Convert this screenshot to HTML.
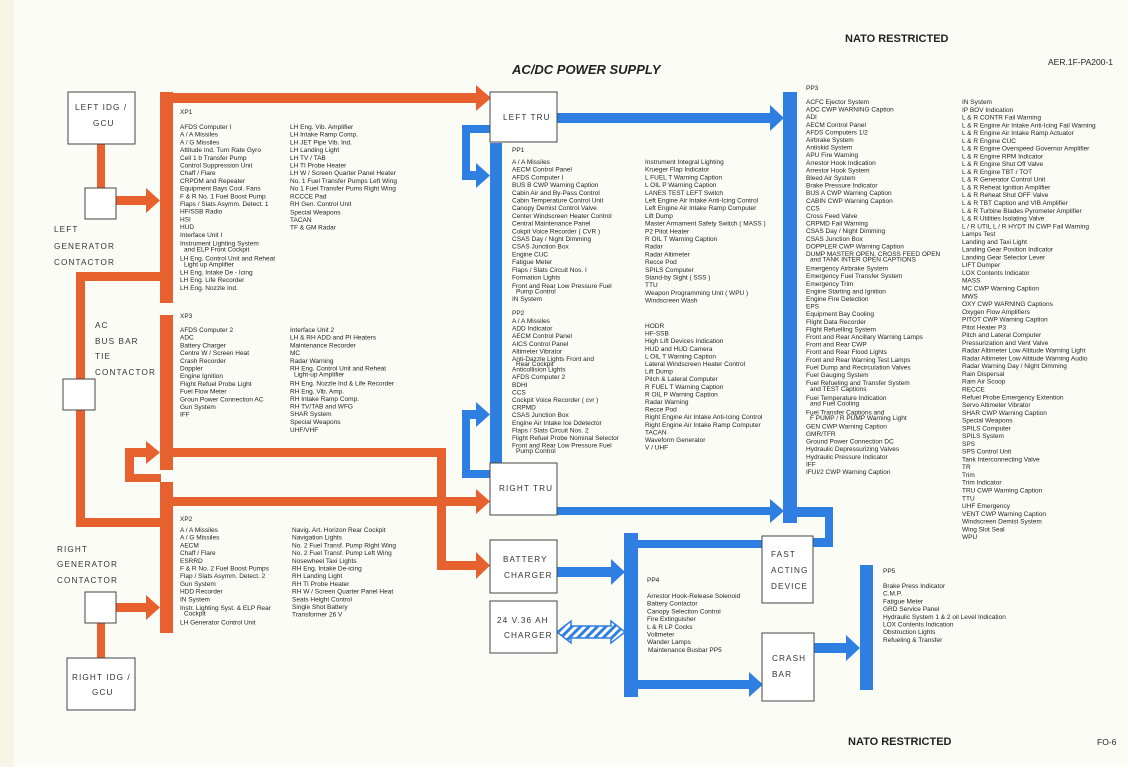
<!DOCTYPE html>
<html><head><meta charset="utf-8"><style>
html,body{margin:0;padding:0;background:#fcfcf7;}
svg{display:block;}
.t{font-family:"Liberation Sans",Arial,sans-serif;font-size:6.5px;fill:#222;}
.b{font-family:"Liberation Sans",Arial,sans-serif;font-size:8.2px;fill:#333;letter-spacing:1.1px;}
.h{font-family:"Liberation Sans",Arial,sans-serif;font-weight:bold;fill:#222;}
</style></head><body>
<svg width="1128" height="767" viewBox="0 0 1128 767" xmlns="http://www.w3.org/2000/svg">
<defs>
<pattern id="hz" width="6" height="6" patternUnits="userSpaceOnUse" patternTransform="rotate(45)">
<rect width="6" height="6" fill="#fff"/><rect width="3" height="6" fill="#2f7fe2"/></pattern>
</defs>
<rect x="0" y="0" width="1128" height="767" fill="#fcfcf7"/>
<rect x="0" y="0" width="14" height="767" fill="#f6f4e4"/>

<text class="h" x="845" y="42" font-size="11">NATO RESTRICTED</text>
<text class="h" x="512" y="74" font-size="13" font-style="italic">AC/DC POWER SUPPLY</text>
<text class="t" x="1048" y="65" style="font-size:8.5px">AER.1F-PA200-1</text>
<text class="h" x="848" y="745" font-size="11">NATO RESTRICTED</text>
<text class="t" x="1097" y="745" style="font-size:8.5px">FO-6</text>

<!-- ORANGE -->
<g fill="#e6612d">
<rect x="160" y="92" width="13" height="211"/>
<rect x="173" y="93" width="305" height="10"/>
<polygon points="476,85 491,98 476,111"/>
<rect x="97" y="144" width="8" height="44"/>
<rect x="116" y="196" width="32" height="9"/>
<polygon points="146,188 160,200.5 146,213"/>
<rect x="76" y="272" width="84" height="9"/>
<rect x="76" y="272" width="9" height="255"/>
<rect x="76" y="518" width="90" height="9"/>
<rect x="160" y="315" width="13" height="155"/>
<rect x="173" y="448" width="273" height="9"/>
<rect x="437" y="448" width="9" height="122"/>
<rect x="437" y="561" width="41" height="9"/>
<polygon points="476,552 490,565.5 476,579"/>
<rect x="125" y="448" width="9" height="34"/>
<rect x="125" y="474" width="36" height="8"/>
<rect x="125" y="448" width="23" height="9"/>
<polygon points="146,441 160,452.5 146,464"/>
<rect x="160" y="482" width="13" height="151"/>
<rect x="173" y="497" width="305" height="9"/>
<polygon points="476,489 490,501.5 476,514"/>
<rect x="116" y="603" width="32" height="9"/>
<polygon points="146,595 160,607.5 146,620"/>
<rect x="97" y="622" width="8" height="36"/>
</g>

<!-- BLUE -->
<g fill="#2f7fe2">
<rect x="557" y="113" width="214" height="10"/>
<polygon points="770,105 784,118 770,131"/>
<rect x="783" y="92" width="14" height="431"/>
<rect x="797" y="507" width="36" height="10"/>
<rect x="825" y="507" width="8" height="40"/>
<rect x="813" y="538" width="20" height="9"/>
<rect x="462" y="125" width="28" height="8"/>
<rect x="462" y="125" width="8" height="55"/>
<rect x="462" y="171" width="16" height="9"/>
<polygon points="476,163 490,175.5 476,188"/>
<rect x="490" y="143" width="12" height="327"/>
<rect x="462" y="470" width="28" height="8"/>
<rect x="462" y="410" width="8" height="68"/>
<rect x="462" y="410" width="16" height="9"/>
<polygon points="476,402 490,414.5 476,427"/>
<rect x="557" y="507" width="214" height="8"/>
<polygon points="770,499 784,511 770,523"/>
<rect x="557" y="567" width="56" height="10"/>
<polygon points="611,559 625,572 611,585"/>
<rect x="624" y="533" width="14" height="164"/>
<rect x="638" y="540" width="125" height="8"/>
<rect x="638" y="680" width="112" height="9"/>
<polygon points="749,672 763,684.5 749,697"/>
<rect x="813" y="643" width="35" height="10"/>
<polygon points="846,635 860,648 846,661"/>
<rect x="860" y="565" width="13" height="125"/>
</g>
<polygon points="557,632 571,621 571,626 611,626 611,621 625,632 611,643 611,638 571,638 571,643" fill="url(#hz)" stroke="#2f7fe2" stroke-width="1.5"/>

<!-- BOXES -->
<g fill="#fff" stroke="#444" stroke-width="1">
<rect x="68" y="92" width="67" height="52"/>
<rect x="85" y="188" width="31" height="31"/>
<rect x="63" y="379" width="32" height="31"/>
<rect x="85" y="592" width="31" height="31"/>
<rect x="67" y="658" width="68" height="52"/>
<rect x="490" y="92" width="67" height="50"/>
<rect x="490" y="463" width="67" height="52"/>
<rect x="490" y="540" width="67" height="53"/>
<rect x="490" y="601" width="67" height="52"/>
<rect x="762" y="536" width="51" height="67"/>
<rect x="762" y="633" width="52" height="68"/>
</g>
<g class="b">
<text x="75" y="110">LEFT IDG /</text><text x="93" y="126">GCU</text>
<text x="54" y="232">LEFT</text><text x="54" y="249">GENERATOR</text><text x="54" y="265">CONTACTOR</text>
<text x="95" y="328">AC</text><text x="95" y="344">BUS BAR</text><text x="95" y="359">TIE</text><text x="95" y="375">CONTACTOR</text>
<text x="57" y="552">RIGHT</text><text x="57" y="567">GENERATOR</text><text x="57" y="583">CONTACTOR</text>
<text x="72" y="680">RIGHT IDG /</text><text x="92" y="695">GCU</text>
<text x="503" y="120">LEFT TRU</text>
<text x="499" y="491">RIGHT TRU</text>
<text x="503" y="562">BATTERY</text><text x="504" y="578">CHARGER</text>
<text x="497" y="623">24 V.36 AH</text><text x="504" y="638">CHARGER</text>
<text x="771" y="557">FAST</text><text x="771" y="573">ACTING</text><text x="771" y="589">DEVICE</text>
<text x="772" y="661">CRASH</text><text x="772" y="677">BAR</text>
</g>

<g class="t">
<!-- XP1 -->
<text x="180" y="114">XP1</text>
<text x="180" y="129"><tspan x="180">AFDS Computer I</tspan><tspan x="180" dy="7.7">A / A Missiles</tspan><tspan x="180" dy="7.7">A / G Missiles</tspan><tspan x="180" dy="7.7">Attitude Ind. Turn Rate Gyro</tspan><tspan x="180" dy="7.7">Cell 1 b Transfer Pump</tspan><tspan x="180" dy="7.7">Control Suppression Unit</tspan><tspan x="180" dy="7.7">Chaff / Flare</tspan><tspan x="180" dy="7.7">CRPDM and Repeater</tspan><tspan x="180" dy="7.7">Equipment Bays Cool. Fans</tspan><tspan x="180" dy="7.7">F &amp; R No. 1 Fuel Boost Pump</tspan><tspan x="180" dy="7.7">Flaps / Slats Asymm. Detect. 1</tspan><tspan x="180" dy="7.7">HF/SSB Radio</tspan><tspan x="180" dy="7.7">HSI</tspan><tspan x="180" dy="7.7">HUD</tspan><tspan x="180" dy="7.7">Interface Unit I</tspan><tspan x="180" dy="8.5">Instrument Lighting System</tspan><tspan x="184" dy="6">and ELP Front Cockpit</tspan><tspan x="180" dy="9">LH Eng. Control Unit and Reheat</tspan><tspan x="184" dy="6">Light up Amplifier</tspan><tspan x="180" dy="8.2">LH Eng. Intake De - Icing</tspan><tspan x="180" dy="7.7">LH Eng. Life Recorder</tspan><tspan x="180" dy="7.7">LH Eng. Nozzle Ind.</tspan></text>
<text x="290" y="129"><tspan x="290">LH Eng. Vib. Amplifier</tspan><tspan x="290" dy="7.7">LH Intake Ramp Comp.</tspan><tspan x="290" dy="7.7">LH JET Pipe Vib. Ind.</tspan><tspan x="290" dy="7.7">LH Landing Light</tspan><tspan x="290" dy="7.7">LH TV / TAB</tspan><tspan x="290" dy="7.7">LH TI Probe Heater</tspan><tspan x="290" dy="7.7">LH W / Screen Quarter Panel Heater</tspan><tspan x="290" dy="7.7">No. 1 Fuel Transfer Pumps Left Wing</tspan><tspan x="290" dy="7.7">No 1 Fuel Transfer Pums Right Wing</tspan><tspan x="290" dy="7.7">RCCCE Pad</tspan><tspan x="290" dy="7.7">RH Gen. Control Unit</tspan><tspan x="290" dy="8.3">Special Weapons</tspan><tspan x="290" dy="7.7">TACAN</tspan><tspan x="290" dy="7.7">TF &amp; GM Radar</tspan></text>

<!-- XP3 -->
<text x="180" y="318">XP3</text>
<text x="180" y="332"><tspan x="180">AFDS Computer 2</tspan><tspan x="180" dy="7.7">ADC</tspan><tspan x="180" dy="7.7">Battery Charger</tspan><tspan x="180" dy="7.7">Centre W / Screen Heat</tspan><tspan x="180" dy="7.7">Crash Recorder</tspan><tspan x="180" dy="7.7">Doppler</tspan><tspan x="180" dy="7.7">Engine Ignition</tspan><tspan x="180" dy="7.7">Flight Refuel Probe Light</tspan><tspan x="180" dy="7.7">Fuel Flow Meter</tspan><tspan x="180" dy="7.7">Groun Power Connection AC</tspan><tspan x="180" dy="7.7">Gun System</tspan><tspan x="180" dy="7.7">IFF</tspan></text>
<text x="290" y="332"><tspan x="290">Interface Unit 2</tspan><tspan x="290" dy="7.7">LH &amp; RH ADD and PI Heaters</tspan><tspan x="290" dy="7.7">Maintenance Recorder</tspan><tspan x="290" dy="7.7">MC</tspan><tspan x="290" dy="7.7">Radar Warning</tspan><tspan x="290" dy="7.7">RH Eng. Control Unit and Reheat</tspan><tspan x="294" dy="5.8">Light-up Amplifier</tspan><tspan x="290" dy="9.4">RH Eng. Nozzle Ind &amp; Life Recorder</tspan><tspan x="290" dy="7.7">RH Eng. Vib. Amp.</tspan><tspan x="290" dy="7.7">RH Intake Ramp Comp.</tspan><tspan x="290" dy="7.3">RH TV/TAB and WFG</tspan><tspan x="290" dy="7.7">SHAR System</tspan><tspan x="290" dy="8">Special Weapons</tspan><tspan x="290" dy="7.7">UHF/VHF</tspan></text>

<!-- XP2 -->
<text x="180" y="521">XP2</text>
<text x="180" y="532"><tspan x="180">A / A Missiles</tspan><tspan x="180" dy="7.7">A / G Missiles</tspan><tspan x="180" dy="7.7">AECM</tspan><tspan x="180" dy="7.7">Chaff / Flare</tspan><tspan x="180" dy="7.7">ESRRD</tspan><tspan x="180" dy="7.7">F &amp; R No. 2 Fuel Boost Pumps</tspan><tspan x="180" dy="7.7">Flap / Slats Asymm. Detect. 2</tspan><tspan x="180" dy="7.7">Gun System</tspan><tspan x="180" dy="7.7">HDD Recorder</tspan><tspan x="180" dy="7.7">IN System</tspan><tspan x="180" dy="8.8">Instr. Lighting Syst. &amp; ELP Rear</tspan><tspan x="184" dy="5.5">Cockpit</tspan><tspan x="180" dy="9">LH Generator Control Unit</tspan></text>
<text x="292" y="532"><tspan x="292">Navig. Art. Horizon Rear Cockpit</tspan><tspan x="292" dy="7.7">Navigation Lights</tspan><tspan x="292" dy="7.7">No. 2  Fuel Transf. Pump Right Wing</tspan><tspan x="292" dy="7.7">No. 2 Fuel Transf. Pump Left Wing</tspan><tspan x="292" dy="7.7">Nosewheel Taxi Lights</tspan><tspan x="292" dy="7.7">RH Eng. Intake De-icing</tspan><tspan x="292" dy="7.7">RH Landing Light</tspan><tspan x="292" dy="7.7">RH TI Probe Heater</tspan><tspan x="292" dy="7.7">RH W / Screen Quarter Panel Heat</tspan><tspan x="292" dy="7.7">Seats Height Control</tspan><tspan x="292" dy="7.7">Single Shot Battery</tspan><tspan x="292" dy="7.7">Transformer 26 V</tspan></text>

<!-- PP1 -->
<text x="512" y="152">PP1</text>
<text x="512" y="164"><tspan x="512">A / A Missiles</tspan><tspan x="512" dy="7.7">AECM Control Panel</tspan><tspan x="512" dy="7.7">AFDS Computer I</tspan><tspan x="512" dy="7.7">BUS B CWP Warning Caption</tspan><tspan x="512" dy="7.7">Cabin Air and By-Pass Control</tspan><tspan x="512" dy="7.7">Cabin Temperature Control Unit</tspan><tspan x="512" dy="7.7">Canopy Demist Control Valve</tspan><tspan x="512" dy="7.7">Center Windscreen Heater Control</tspan><tspan x="512" dy="7.7">Central Maintenance Panel</tspan><tspan x="512" dy="7.7">Cokpit Voice Recorder ( CVR )</tspan><tspan x="512" dy="7.7">CSAS Day / Night Dimming</tspan><tspan x="512" dy="7.7">CSAS Junction Box</tspan><tspan x="512" dy="7.7">Engine CUC</tspan><tspan x="512" dy="7.7">Fatigue Meter</tspan><tspan x="512" dy="7.7">Flaps / Slats Circuit Nos. I</tspan><tspan x="512" dy="7.7">Formation Lights</tspan><tspan x="512" dy="8.3">Front and Rear Low Pressure Fuel</tspan><tspan x="516" dy="5.6">Pump Control</tspan><tspan x="512" dy="7.4">IN System</tspan></text>
<text x="645" y="164"><tspan x="645">Instrument Integral Lighting</tspan><tspan x="645" dy="7.7">Krueger Flap Indicator</tspan><tspan x="645" dy="7.7">L FUEL T Warning Caption</tspan><tspan x="645" dy="7.7">L OIL P Warning Caption</tspan><tspan x="645" dy="7.7">LANES TEST LEFT Switch</tspan><tspan x="645" dy="7.7">Left Engine Air Intake Anti-Icing Control</tspan><tspan x="645" dy="7.7">Left Engine Air Intake Ramp Computer</tspan><tspan x="645" dy="7.7">Lift Dump</tspan><tspan x="645" dy="7.7">Master Armament Safety Switch ( MASS )</tspan><tspan x="645" dy="7.7">P2 Pitot Heater</tspan><tspan x="645" dy="7.7">R OIL T Warning Caption</tspan><tspan x="645" dy="7.7">Radar</tspan><tspan x="645" dy="7.7">Radar Altimeter</tspan><tspan x="645" dy="7.7">Recce Pod</tspan><tspan x="645" dy="7.7">SPILS Computer</tspan><tspan x="645" dy="7.7">Stand-by Sight ( SSS )</tspan><tspan x="645" dy="7.7">TTU</tspan><tspan x="645" dy="7.7">Weapon Programming Unit ( WPU )</tspan><tspan x="645" dy="7.7">Windscreen Wash</tspan></text>

<!-- PP2 -->
<text x="512" y="315">PP2</text>
<text x="512" y="323"><tspan x="512">A / A Missiles</tspan><tspan x="512" dy="7.6">ADD Indicator</tspan><tspan x="512" dy="7.6">AECM Control Panel</tspan><tspan x="512" dy="7.6">AICS Control Panel</tspan><tspan x="512" dy="7.6">Altimeter Vibrator</tspan><tspan x="512" dy="7.6">Anti-Dazzle Lights Front and</tspan><tspan x="516" dy="5">Rear Cockpit</tspan><tspan x="512" dy="5.6">Anticollision Lights</tspan><tspan x="512" dy="7.6">AFDS Computer 2</tspan><tspan x="512" dy="7.6">BDHI</tspan><tspan x="512" dy="7.6">CCS</tspan><tspan x="512" dy="7.6">Cockpit Voice Recorder  ( cvr )</tspan><tspan x="512" dy="7.6">CRPMD</tspan><tspan x="512" dy="7.6">CSAS Junction Box</tspan><tspan x="512" dy="7.6">Engine Air Intake Ice Ddetector</tspan><tspan x="512" dy="7.6">Flaps / Slats Circuit Nos. 2</tspan><tspan x="512" dy="7.6">Flight Refuel Probe Nominal Selector</tspan><tspan x="512" dy="7.6">Front and Rear Low Pressure Fuel</tspan><tspan x="516" dy="5.4">Pump Control</tspan></text>
<text x="645" y="328"><tspan x="645">HODR</tspan><tspan x="645" dy="7.6">HF-SSB</tspan><tspan x="645" dy="7.6">High Lift Devices Indication</tspan><tspan x="645" dy="7.6">HUD and HUD Camera</tspan><tspan x="645" dy="7.6">L OIL T Warning Caption</tspan><tspan x="645" dy="7.6">Lateral Windscreen Heater Control</tspan><tspan x="645" dy="7.6">Lift Dump</tspan><tspan x="645" dy="7.6">Pitch &amp; Lateral Computer</tspan><tspan x="645" dy="7.6">R FUEL T Warning Caption</tspan><tspan x="645" dy="7.6">R OIL P Warning Caption</tspan><tspan x="645" dy="7.6">Radar Warning</tspan><tspan x="645" dy="7.6">Recce Pod</tspan><tspan x="645" dy="7.6">Right Engine Air Intake Anti-Icing Control</tspan><tspan x="645" dy="7.6">Right Engine Air Intake Ramp Computer</tspan><tspan x="645" dy="7.6">TACAN</tspan><tspan x="645" dy="7.6">Waveform Generator</tspan><tspan x="645" dy="7.6">V / UHF</tspan></text>

<!-- PP3 -->
<text x="806" y="90">PP3</text>
<text x="806" y="104"><tspan x="806">ACFC Ejector System</tspan><tspan x="806" dy="7.6">ADC CWP WARNING Caption</tspan><tspan x="806" dy="7.6">ADI</tspan><tspan x="806" dy="7.6">AECM Control Panel</tspan><tspan x="806" dy="7.6">AFDS Computers 1/2</tspan><tspan x="806" dy="7.6">Airbrake System</tspan><tspan x="806" dy="7.6">Antiskid System</tspan><tspan x="806" dy="7.6">APU Fire Warning</tspan><tspan x="806" dy="7.6">Arrestor Hook Indication</tspan><tspan x="806" dy="7.6">Arrestor Hook System</tspan><tspan x="806" dy="7.6">Bleed Air System</tspan><tspan x="806" dy="7.6">Brake Pressure Indicator</tspan><tspan x="806" dy="7.6">BUS A CWP Warning Caption</tspan><tspan x="806" dy="7.6">CABIN CWP Warning Caption</tspan><tspan x="806" dy="7.6">CCS</tspan><tspan x="806" dy="7.6">Cross Feed Valve</tspan><tspan x="806" dy="7.6">CRPMD Fail Warning</tspan><tspan x="806" dy="7.6">CSAS Day / Night Dimming</tspan><tspan x="806" dy="7.6">CSAS Junction Box</tspan><tspan x="806" dy="7.6">DOPPLER CWP Warning Caption</tspan><tspan x="806" dy="7.6">DUMP MASTER OPEN, CROSS FEED OPEN</tspan><tspan x="810" dy="5.6">and TANK INTER OPEN CAPTIONS</tspan><tspan x="806" dy="9">Emergency Airbrake System</tspan><tspan x="806" dy="7.6">Emergency Fuel Transfer System</tspan><tspan x="806" dy="7.6">Emergency Trim</tspan><tspan x="806" dy="7.6">Engine Starting and Ignition</tspan><tspan x="806" dy="7.6">Engine Fire Detection</tspan><tspan x="806" dy="7.6">EPS</tspan><tspan x="806" dy="7.6">Equipment Bay Cooling</tspan><tspan x="806" dy="7.6">Flight Data Recorder</tspan><tspan x="806" dy="7.6">Flight Refuelling System</tspan><tspan x="806" dy="7.6">Front and Rear Ancillary Warning Lamps</tspan><tspan x="806" dy="7.6">Front and Rear CWP</tspan><tspan x="806" dy="7.6">Front and Rear Flood Lights</tspan><tspan x="806" dy="7.6">Front and Rear Warning Test Lamps</tspan><tspan x="806" dy="7.6">Fuel Dump and Recirculation Valves</tspan><tspan x="806" dy="7.6">Fuel Gauging System</tspan><tspan x="806" dy="8.2">Fuel Refueling and Transfer System</tspan><tspan x="810" dy="5.6">and TEST Captions</tspan><tspan x="806" dy="9">Fuel Temperature Indication</tspan><tspan x="810" dy="5.6">and Fuel Cooling</tspan><tspan x="806" dy="9">Fuel Transfer Captions and</tspan><tspan x="810" dy="5.6">F PUMP / R PUMP Warning Light</tspan><tspan x="806" dy="8.4">GEN CWP Warning Caption</tspan><tspan x="806" dy="7.6">GMR/TFR</tspan><tspan x="806" dy="7.6">Ground Power Connection DC</tspan><tspan x="806" dy="7.6">Hydraulic Depressurizing Valves</tspan><tspan x="806" dy="7.6">Hydraulic Pressure Indicator</tspan><tspan x="806" dy="7.6">IFF</tspan><tspan x="806" dy="7.6">IFUI/2 CWP Warning Caption</tspan></text>
<text x="962" y="104"><tspan x="962">IN System</tspan><tspan x="962" dy="7.77">IP BOV Indication</tspan><tspan x="962" dy="7.77">L &amp; R CONTR Fail Warning</tspan><tspan x="962" dy="7.77">L &amp; R Engine Air Intake Anti-Icing Fail Warning</tspan><tspan x="962" dy="7.77">L &amp; R Engine Air Intake Ramp Actuator</tspan><tspan x="962" dy="7.77">L &amp; R Engine CUC</tspan><tspan x="962" dy="7.77">L &amp; R Engine Overspeed Governor Amplifier</tspan><tspan x="962" dy="7.77">L &amp; R Engine RPM Indicator</tspan><tspan x="962" dy="7.77">L &amp; R Engine Shut Off Valve</tspan><tspan x="962" dy="7.77">L &amp; R Engine TBT / TOT</tspan><tspan x="962" dy="7.77">L &amp; R Generator Control Unit</tspan><tspan x="962" dy="7.77">L &amp; R Reheat Ignition Amplifier</tspan><tspan x="962" dy="7.77">L &amp; R Reheat Shut OFF Valve</tspan><tspan x="962" dy="7.77">L &amp; R TBT Caption and VIB Amplifier</tspan><tspan x="962" dy="7.77">L &amp; R Turbine Blades Pyrometer Amplifier</tspan><tspan x="962" dy="7.77">L &amp; R Utilities Isolating Valve</tspan><tspan x="962" dy="7.77">L / R UTIL  L / R HYDT IN CWP Fail Warning</tspan><tspan x="962" dy="7.77">Lamps Test</tspan><tspan x="962" dy="7.77">Landing and Taxi Light</tspan><tspan x="962" dy="7.77">Landing Gear Position Indicator</tspan><tspan x="962" dy="7.77">Landing Gear Selector Lever</tspan><tspan x="962" dy="7.77">LIFT Dumper</tspan><tspan x="962" dy="7.77">LOX Contents Indicator</tspan><tspan x="962" dy="7.77">MASS</tspan><tspan x="962" dy="7.77">MC CWP Warning Caption</tspan><tspan x="962" dy="7.77">MWS</tspan><tspan x="962" dy="7.77">OXY CWP WARNING Captions</tspan><tspan x="962" dy="7.77">Oxygen Flow Amplifiers</tspan><tspan x="962" dy="7.77">PITOT CWP Warning Caption</tspan><tspan x="962" dy="7.77">Pitot Heater P3</tspan><tspan x="962" dy="7.77">Pitch and Lateral Computer</tspan><tspan x="962" dy="7.77">Pressurization and Vent Valve</tspan><tspan x="962" dy="7.77">Radar Altimeter Low Altitude Warning Light</tspan><tspan x="962" dy="7.77">Radar Altimeter Low Altitude Warning Audio</tspan><tspan x="962" dy="7.77">Radar Warning Day / Night Dimming</tspan><tspan x="962" dy="7.77">Rain Dispersal</tspan><tspan x="962" dy="7.77">Ram Air Scoop</tspan><tspan x="962" dy="7.77">RECCE</tspan><tspan x="962" dy="7.77">Refuel Probe Emergency Extention</tspan><tspan x="962" dy="7.77">Servo Altimeter Vibrator</tspan><tspan x="962" dy="7.77">SHAR CWP Warning Caption</tspan><tspan x="962" dy="7.77">Special Weapons</tspan><tspan x="962" dy="7.77">SPILS Computer</tspan><tspan x="962" dy="7.77">SPILS System</tspan><tspan x="962" dy="7.77">SPS</tspan><tspan x="962" dy="7.77">SPS Control Unit</tspan><tspan x="962" dy="7.77">Tank Interconnecting Valve</tspan><tspan x="962" dy="7.77">TR</tspan><tspan x="962" dy="7.77">Trim</tspan><tspan x="962" dy="7.77">Trim Indicator</tspan><tspan x="962" dy="7.77">TRU CWP Warning Caption</tspan><tspan x="962" dy="7.77">TTU</tspan><tspan x="962" dy="7.77">UHF Emergency</tspan><tspan x="962" dy="7.77">VENT CWP Warning Caption</tspan><tspan x="962" dy="7.77">Windscreen Demist System</tspan><tspan x="962" dy="7.77">Wing Slot Seal</tspan><tspan x="962" dy="7.77">WPU</tspan></text>

<!-- PP4 -->
<text x="647" y="582">PP4</text>
<text x="647" y="598"><tspan x="647">Arrestor Hook-Release Solenoid</tspan><tspan x="647" dy="7.7">Battery Contactor</tspan><tspan x="647" dy="7.7">Canopy Selection Control</tspan><tspan x="647" dy="7.7">Fire Extinguisher</tspan><tspan x="647" dy="7.7">L &amp; R LP Cocks</tspan><tspan x="647" dy="7.7">Voltmeter</tspan><tspan x="647" dy="7.7">Wander Lamps</tspan><tspan x="648" dy="7.7">Maintenance Busbar PP5</tspan></text>

<!-- PP5 -->
<text x="883" y="573">PP5</text>
<text x="883" y="588"><tspan x="883">Brake Press Indicator</tspan><tspan x="883" dy="7.7">C.M.P.</tspan><tspan x="883" dy="7.7">Fatigue Meter</tspan><tspan x="883" dy="7.7">GRD Service Panel</tspan><tspan x="883" dy="7.7">Hydraulic System 1 &amp; 2 oil Level Indication</tspan><tspan x="883" dy="7.7">LOX Contents Indication</tspan><tspan x="883" dy="7.7">Obstruction Lights</tspan><tspan x="883" dy="7.7">Refueling &amp; Transfer</tspan></text>
</g>
</svg>
</body></html>
